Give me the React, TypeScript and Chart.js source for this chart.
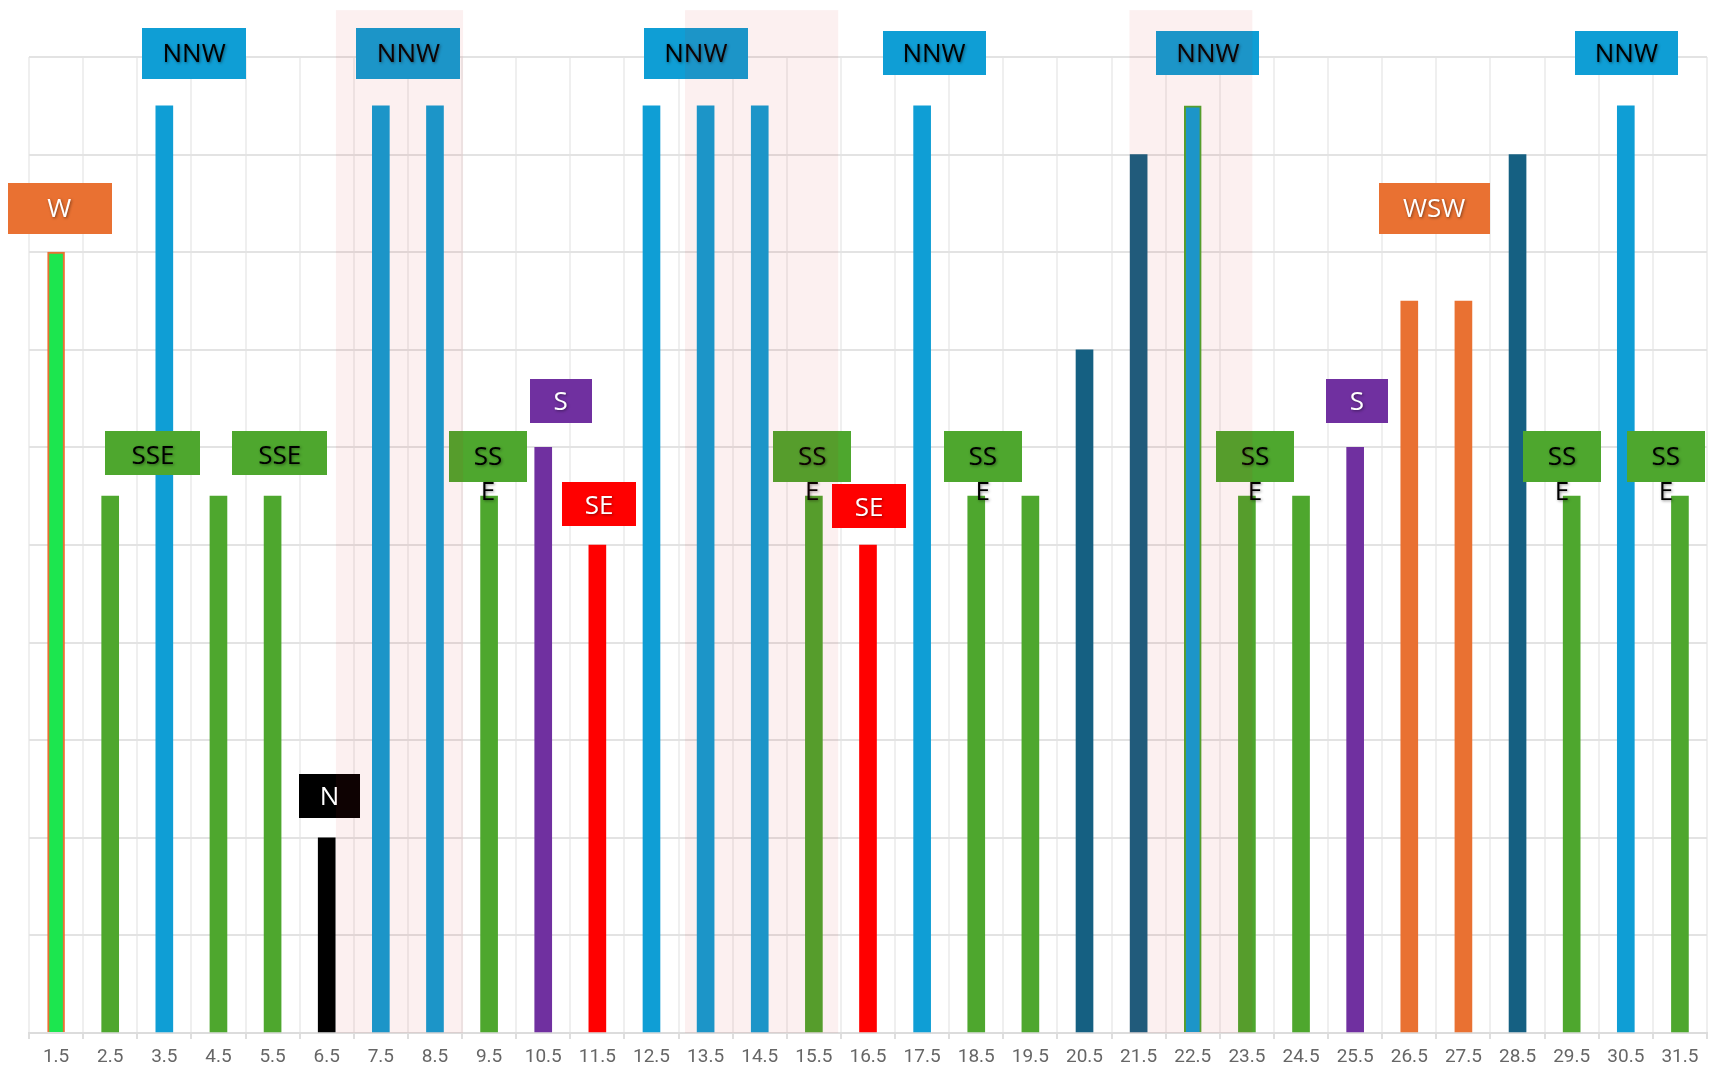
import React, { useEffect, useRef } from "react";
import { Chart, registerables } from "chart.js";

Chart.register(...registerables);

// ---------- data ----------
const categories = [
  "1.5", "2.5", "3.5", "4.5", "5.5", "6.5", "7.5", "8.5", "9.5", "10.5",
  "11.5", "12.5", "13.5", "14.5", "15.5", "16.5", "17.5", "18.5", "19.5", "20.5",
  "21.5", "22.5", "23.5", "24.5", "25.5", "26.5", "27.5", "28.5", "29.5", "30.5", "31.5",
];

const values = [
  8, 5.5, 9.5, 5.5, 5.5, 2, 9.5, 9.5, 5.5, 6,
  5, 9.5, 9.5, 9.5, 5.5, 5, 9.5, 5.5, 5.5, 7,
  9, 9.5, 5.5, 5.5, 6, 7.5, 7.5, 9, 5.5, 9.5, 5.5,
];

const barColorKeys = [
  "lime", "green", "blue", "green", "green", "black", "blue", "blue", "green", "purple",
  "red", "blue", "blue", "blue", "green", "red", "blue", "green", "green", "navy",
  "navy", "blue", "green", "green", "purple", "orange", "orange", "navy", "green", "blue", "green",
];

const barBorderKeys = [
  "orange", "", "", "", "", "", "", "", "", "",
  "", "", "", "", "", "", "", "", "", "",
  "", "green", "", "", "", "", "", "", "", "", "",
];

// direction labels (positions in axis units: x = category value, y = value)
const labelTexts = ["W", "SSE", "NNW", "SSE", "N", "NNW", "SSE", "S", "SE", "NNW", "SSE", "SE", "NNW", "SSE", "NNW", "SSE", "S", "WSW", "SSE", "NNW", "SSE"];
const labelX = [1.56, 3.29, 4.05, 5.63, 6.55, 8.01, 9.48, 10.82, 11.53, 13.32, 15.47, 16.52, 17.72, 18.62, 22.78, 23.65, 25.53, 26.96, 29.32, 30.51, 31.24];
const labelY = [8.45, 5.94, 10.04, 5.94, 2.43, 10.04, 5.91, 6.48, 5.42, 10.04, 5.91, 5.4, 10.04, 5.91, 10.04, 5.91, 6.48, 8.45, 5.91, 10.04, 5.91];
const labelKinds = ["W", "SSEwide", "NNWtall", "SSEwide", "N", "NNWtall", "SSEnarrow", "S", "SE", "NNWtall", "SSEnarrow", "SE", "NNW", "SSEnarrow", "NNW", "SSEnarrow", "S", "WSW", "SSEnarrow", "NNW", "SSEnarrow"];

// highlighted ranges (axis units)
const regionStart = [6.67, 13.12, 21.33];
const regionEnd = [9.02, 15.95, 23.6];
const regionTop = 10.48;

// ---------- styles ----------
const palette: Record<string, string> = {
  lime: "#1ce64f",
  green: "#4ea72e",
  blue: "#0f9ed5",
  navy: "#156082",
  orange: "#e97132",
  purple: "#7030a0",
  red: "#ff0000",
  black: "#000000",
};

type LabelStyle = { bg: string; fg: string; w: number; h: number; maxText?: number; dy: number };
const labelStyles: Record<string, LabelStyle> = {
  W: { bg: palette.orange, fg: "#ffffff", w: 105, h: 51, dy: 1 },
  WSW: { bg: palette.orange, fg: "#ffffff", w: 111, h: 51, dy: 1 },
  NNWtall: { bg: palette.blue, fg: "#000000", w: 104, h: 51, dy: 1 },
  NNW: { bg: palette.blue, fg: "#000000", w: 103, h: 44, dy: 1 },
  SSEwide: { bg: palette.green, fg: "#000000", w: 95, h: 44, dy: 3 },
  SSEnarrow: { bg: palette.green, fg: "#000000", w: 78, h: 51, maxText: 40, dy: 1 },
  N: { bg: palette.black, fg: "#ffffff", w: 61, h: 44, dy: 2 },
  S: { bg: palette.purple, fg: "#ffffff", w: 62, h: 44, dy: 2 },
  SE: { bg: palette.red, fg: "#ffffff", w: 74, h: 44, dy: 3 },
};

const LABEL_FONT = "26px 'Open Sans', 'Noto Sans', sans-serif";
const LINE_GAP = 35;

function wrapText(ctx: CanvasRenderingContext2D, text: string, maxW?: number): string[] {
  if (!maxW || ctx.measureText(text).width <= maxW) return [text];
  const lines: string[] = [];
  let cur = "";
  for (const ch of text) {
    if (cur && ctx.measureText(cur + ch).width > maxW) {
      lines.push(cur);
      cur = ch;
    } else cur += ch;
  }
  if (cur) lines.push(cur);
  return lines;
}

const axisPx = (chart: any, v: number) => {
  const xs = chart.scales.x;
  const p0 = xs.getPixelForValue(0);
  const step = xs.getPixelForValue(1) - p0;
  return p0 + (v - 1.5) * step;
};

const labelPlugin = {
  id: "dirLabels",
  afterDatasetsDraw(chart: any) {
    const ctx: CanvasRenderingContext2D = chart.ctx;
    const ys = chart.scales.y;
    ctx.save();
    ctx.font = LABEL_FONT;
    ctx.textAlign = "center";
    ctx.textBaseline = "middle";
    labelTexts.forEach((t, i) => {
      const st = labelStyles[labelKinds[i]];
      const cx = axisPx(chart, labelX[i]);
      const cy = ys.getPixelForValue(labelY[i]);
      ctx.shadowColor = "transparent";
      ctx.shadowBlur = 0;
      ctx.shadowOffsetX = 0;
      ctx.shadowOffsetY = 0;
      ctx.fillStyle = st.bg;
      ctx.fillRect(Math.round(cx - st.w / 2), Math.round(cy - st.h / 2), st.w, st.h);
      const lines = wrapText(ctx, t, st.maxText);
      ctx.fillStyle = st.fg;
      ctx.shadowColor = "rgba(0,0,0,0.45)";
      ctx.shadowBlur = 3;
      ctx.shadowOffsetX = 1;
      ctx.shadowOffsetY = 1;
      lines.forEach((ln, k) => {
        ctx.fillText(ln, cx, cy + st.dy + k * LINE_GAP);
      });
    });
    ctx.restore();
  },
};

const regionPlugin = {
  id: "regions",
  afterDraw(chart: any) {
    const ctx: CanvasRenderingContext2D = chart.ctx;
    const ys = chart.scales.y;
    const top = ys.getPixelForValue(regionTop);
    const bottom = ys.getPixelForValue(0);
    ctx.save();
    ctx.fillStyle = "rgba(215, 35, 35, 0.065)";
    regionStart.forEach((s, i) => {
      const x1 = axisPx(chart, s);
      const x2 = axisPx(chart, regionEnd[i]);
      ctx.fillRect(x1, top, x2 - x1, bottom - top);
    });
    ctx.restore();
  },
};

export default function App() {
  const ref = useRef<HTMLCanvasElement | null>(null);

  useEffect(() => {
    document.documentElement.style.overflow = "hidden";
    document.body.style.overflow = "hidden";
    if (!ref.current) return;
    const chart = new Chart(ref.current, {
      type: "bar",
      data: {
        labels: categories,
        datasets: [
          {
            data: values,
            backgroundColor: barColorKeys.map((k) => palette[k]),
            borderColor: barBorderKeys.map((k) => (k ? palette[k] : "rgba(0,0,0,0)")),
            borderWidth: barBorderKeys.map((k) => (k ? 2 : 0)),
            barThickness: 17,
          },
        ],
      },
      options: {
        animation: false,
        responsive: false,
        devicePixelRatio: 1,
        layout: { padding: { top: 49, left: 21, right: 1, bottom: 0 } },
        plugins: {
          legend: { display: false },
          tooltip: { enabled: false },
        },
        scales: {
          x: {
            offset: true,
            grid: {
              offset: true,
              color: "#efefef",
              lineWidth: 2,
              tickLength: 6,
              tickColor: "#dedede",
            },
            border: { color: "#dcdcdc", width: 2 },
            ticks: {
              color: "#666666",
              font: { family: "Roboto, 'Open Sans', sans-serif", size: 19, lineHeight: 1 },
              padding: 9,
              maxRotation: 0,
              autoSkip: false,
            },
          },
          y: {
            min: 0,
            max: 10,
            ticks: { display: false, stepSize: 1 },
            grid: { color: "#e3e3e3", lineWidth: 2, drawTicks: false },
            border: { display: false },
          },
        },
      },
      plugins: [labelPlugin, regionPlugin],
    });
    return () => chart.destroy();
  }, []);

  return (
    <div style={{ width: 1700, height: 1068 }}>
      <canvas ref={ref} width={1700} height={1068} style={{ display: "block" }} />
    </div>
  );
}
